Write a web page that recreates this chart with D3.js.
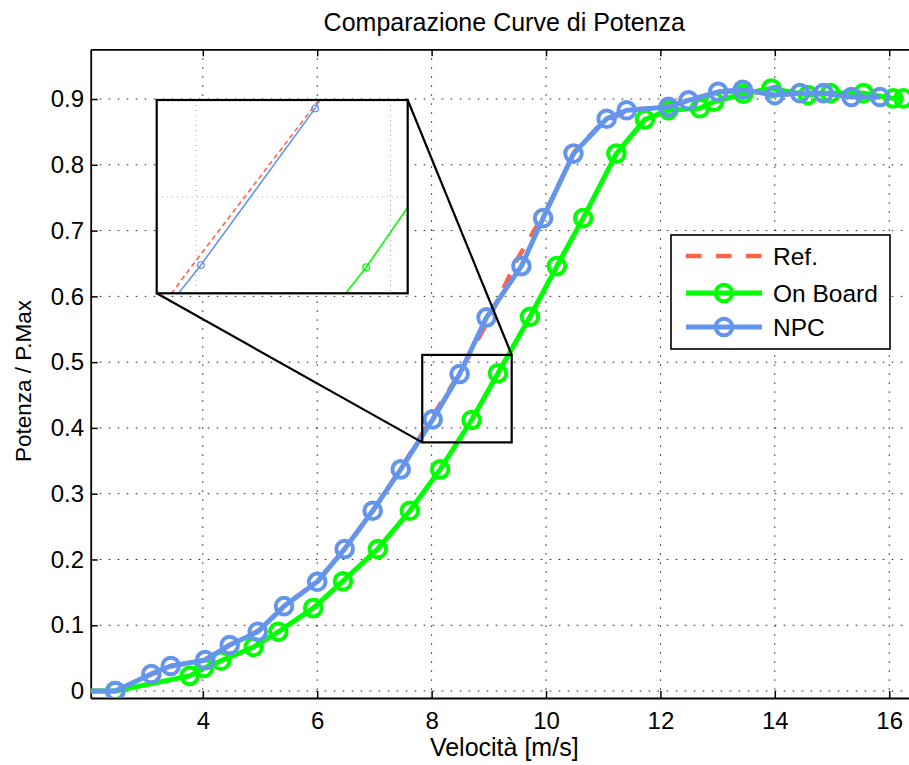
<!DOCTYPE html>
<html><head><meta charset="utf-8">
<script src="https://cdn.jsdelivr.net/npm/d3@7/dist/d3.min.js"></script>
<style>
body{margin:0;background:#fff}
svg{display:block}
text{font-family:"Liberation Sans",Arial,Helvetica,sans-serif;fill:#000}
</style>
</head><body>
<svg id="chart" width="909" height="765"></svg>
<script>
// ---------- data ----------
const xTicks = [4, 6, 8, 10, 12, 14, 16];
const yTicks = [0, 0.1, 0.2, 0.3, 0.4, 0.5, 0.6, 0.7, 0.8, 0.9];
const yTickLabels = ["0", "0.1", "0.2", "0.3", "0.4", "0.5", "0.6", "0.7", "0.8", "0.9"];
const seriesNames = ["Ref.", "On Board", "NPC"];

const refX = [2.0, 2.5, 3.0, 3.5, 4.0, 4.5, 5.0, 5.5, 6.0, 6.5, 7.0, 7.5, 8.0, 8.5, 9.0, 9.5, 10.0, 10.5, 11.0, 11.5, 12.0, 12.5, 13.0, 13.5, 14.0, 14.5, 15.0, 15.5, 16.0];
const refY = [0, 0, 0.022, 0.039, 0.046, 0.071, 0.093, 0.135, 0.166, 0.218, 0.277, 0.343, 0.415, 0.485, 0.565, 0.657, 0.730, 0.820, 0.866, 0.884, 0.887, 0.898, 0.910, 0.913, 0.906, 0.909, 0.908, 0.903, 0.903];

const boardX = [2.0, 2.47, 3.77, 4.02, 4.32, 4.89, 5.32, 5.93, 6.45, 7.06, 7.62, 8.15, 8.70, 9.16, 9.72, 10.19, 10.65, 11.23, 11.73, 12.14, 12.69, 12.94, 13.45, 13.94, 14.58, 14.97, 15.55, 16.07, 16.25];
const boardY = [0, 0, 0.023, 0.035, 0.046, 0.067, 0.090, 0.126, 0.167, 0.216, 0.274, 0.337, 0.412, 0.483, 0.569, 0.646, 0.719, 0.817, 0.869, 0.883, 0.886, 0.896, 0.908, 0.916, 0.906, 0.909, 0.909, 0.901, 0.901];

const npcX = [2.0, 2.47, 3.10, 3.44, 4.04, 4.47, 4.96, 5.42, 6.00, 6.48, 6.97, 7.46, 8.02, 8.49, 8.96, 9.57, 9.95, 10.48, 11.06, 11.41, 12.14, 12.49, 13.01, 13.44, 14.00, 14.44, 14.85, 15.34, 15.84];
const npcY = [0, 0, 0.026, 0.038, 0.047, 0.070, 0.090, 0.129, 0.166, 0.216, 0.274, 0.337, 0.413, 0.482, 0.568, 0.646, 0.719, 0.817, 0.870, 0.883, 0.888, 0.898, 0.911, 0.914, 0.906, 0.909, 0.909, 0.903, 0.903];

// zoom window (main axes data coords) and inset view limits
const zoomBoxX = [7.836, 9.40];
const zoomBoxY = [0.378, 0.511];
const insetX = [7.838, 8.871];
const insetY = [0.4005, 0.4857];
const insetGridX = [8.0, 8.8];
const insetGridY = [0.443];

// ---------- setup ----------
const svg = d3.select("#chart");
const L = 90.7, T = 49.3, B = 698;
const x = d3.scaleLinear().domain([2.04, 16.5]).range([L, L + 14.46 * 57.2]);
const y = d3.scaleLinear().domain([-0.0106, 0.9756]).range([B, T]);
const R = x.range()[1];

const colRef = "#ff6347", colBoard = "#00ff00", colNpc = "#6495ed";

// grid
const grid = svg.append("g");
grid.selectAll(".gx").data(xTicks).enter().append("line")
  .attr("x1", d => x(d)).attr("x2", d => x(d)).attr("y1", T).attr("y2", B)
  .attr("stroke", "#222").attr("stroke-width", 1).attr("stroke-dasharray", "1.6,7.4");
grid.selectAll(".gy").data(yTicks).enter().append("line")
  .attr("y1", d => y(d)).attr("y2", d => y(d)).attr("x1", L).attr("x2", R)
  .attr("stroke", "#222").attr("stroke-width", 1).attr("stroke-dasharray", "1.6,7.4");

// axes
const fs = 24;
const ax = svg.append("g").attr("transform", `translate(0,${B})`)
  .call(d3.axisBottom(x).tickValues(xTicks).tickFormat(d3.format("d")).tickSizeInner(-7).tickSizeOuter(0).tickPadding(14));
const ay = svg.append("g").attr("transform", `translate(${L},0)`)
  .call(d3.axisLeft(y).tickValues(yTicks).tickFormat((d, i) => yTickLabels[i]).tickSizeInner(-7).tickSizeOuter(0).tickPadding(6.7));
const axt = svg.append("g").attr("transform", `translate(0,${T})`)
  .call(d3.axisTop(x).tickValues(xTicks).tickFormat("").tickSizeInner(-7).tickSizeOuter(0));
const ayr = svg.append("g").attr("transform", `translate(${R},0)`)
  .call(d3.axisRight(y).tickValues(yTicks).tickFormat("").tickSizeInner(-7).tickSizeOuter(0));
[ax, ay, axt, ayr].forEach(g => {
  g.select(".domain").attr("stroke", "#000").attr("stroke-width", 1.8);
  g.selectAll(".tick line").attr("stroke", "#000").attr("stroke-width", 1.5);
  g.selectAll(".tick text").attr("font-size", fs).attr("font-family", "Liberation Sans, Arial, sans-serif").attr("fill", "#000");
});

// data
svg.append("clipPath").attr("id", "plotclip").append("rect")
  .attr("x", L).attr("y", T).attr("width", R - L).attr("height", B - T);
const plot = svg.append("g").attr("clip-path", "url(#plotclip)");

function drawSeries(g, xs, ys, sx, sy, color, lw, dash, markerR, markerW, showMarkers, xmin) {
  const pts = xs.map((v, i) => [v, ys[i]]);
  const line = d3.line().x(d => sx(d[0])).y(d => sy(d[1]));
  g.append("path").datum(pts).attr("d", line).attr("fill", "none")
    .attr("stroke", color).attr("stroke-width", lw).attr("stroke-linejoin", "round")
    .attr("stroke-dasharray", dash);
  if (showMarkers) {
    g.selectAll(null).data(pts.filter(p => p[0] >= xmin)).enter().append("circle")
      .attr("cx", d => sx(d[0])).attr("cy", d => sy(d[1])).attr("r", markerR)
      .attr("fill", "none").attr("stroke", color).attr("stroke-width", markerW);
  }
}
drawSeries(plot, refX, refY, x, y, colRef, 4.5, "15,14", 0, 0, false, 2.04);
drawSeries(plot, boardX, boardY, x, y, colBoard, 5, null, 8.3, 4, true, 2.04);
drawSeries(plot, npcX, npcY, x, y, colNpc, 5, null, 8.3, 4, true, 2.04);

// zoom rectangle and connectors
const zx0 = x(zoomBoxX[0]), zx1 = x(zoomBoxX[1]), zy0 = y(zoomBoxY[0]), zy1 = y(zoomBoxY[1]);
const xi = d3.scaleLinear().domain(insetX).range([156.7, 407.7]);
const yi = d3.scaleLinear().domain(insetY).range([293.3, 100]);
svg.append("rect").attr("x", zx0).attr("y", zy1).attr("width", zx1 - zx0).attr("height", zy0 - zy1)
  .attr("fill", "none").attr("stroke", "#000").attr("stroke-width", 2.2);
svg.append("line").attr("x1", xi.range()[0]).attr("y1", yi.range()[0]).attr("x2", zx0).attr("y2", zy0)
  .attr("stroke", "#000").attr("stroke-width", 2.2);
svg.append("line").attr("x1", xi.range()[1]).attr("y1", yi.range()[1]).attr("x2", zx1).attr("y2", zy1)
  .attr("stroke", "#000").attr("stroke-width", 2.2);

// inset
const ig = svg.append("g");
ig.append("rect").attr("x", xi.range()[0]).attr("y", yi.range()[1])
  .attr("width", xi.range()[1] - xi.range()[0]).attr("height", yi.range()[0] - yi.range()[1]).attr("fill", "#fff");
svg.append("clipPath").attr("id", "insetclip").append("rect")
  .attr("x", xi.range()[0]).attr("y", yi.range()[1])
  .attr("width", xi.range()[1] - xi.range()[0]).attr("height", yi.range()[0] - yi.range()[1]);
const igc = ig.append("g").attr("clip-path", "url(#insetclip)");
igc.selectAll(".igx").data(insetGridX).enter().append("line")
  .attr("x1", d => xi(d)).attr("x2", d => xi(d)).attr("y1", yi.range()[1]).attr("y2", yi.range()[0])
  .attr("stroke", "#888").attr("stroke-width", 0.8).attr("stroke-dasharray", "1,4");
igc.selectAll(".igy").data(insetGridY).enter().append("line")
  .attr("y1", d => yi(d)).attr("y2", d => yi(d)).attr("x1", xi.range()[0]).attr("x2", xi.range()[1])
  .attr("stroke", "#888").attr("stroke-width", 0.8).attr("stroke-dasharray", "1,4");
drawSeries(igc, refX, refY, xi, yi, colRef, 1.6, "5,3.5", 0, 0, false, 0);
drawSeries(igc, boardX, boardY, xi, yi, colBoard, 1.6, null, 3.3, 1.3, true, 0);
drawSeries(igc, npcX, npcY, xi, yi, colNpc, 1.6, null, 3.3, 1.3, true, 0);
ig.append("rect").attr("x", xi.range()[0]).attr("y", yi.range()[1])
  .attr("width", xi.range()[1] - xi.range()[0]).attr("height", yi.range()[0] - yi.range()[1])
  .attr("fill", "none").attr("stroke", "#000").attr("stroke-width", 2.2);

// legend
const lg = svg.append("g");
lg.append("rect").attr("x", 671).attr("y", 235).attr("width", 219).attr("height", 114)
  .attr("fill", "#fff").attr("stroke", "#000").attr("stroke-width", 1.6);
const legColors = [colRef, colBoard, colNpc];
const legY = [256, 293, 327];
seriesNames.forEach((name, i) => {
  lg.append("line").attr("x1", 686).attr("x2", 762).attr("y1", legY[i]).attr("y2", legY[i])
    .attr("stroke", legColors[i]).attr("stroke-width", i === 0 ? 4.5 : 5)
    .attr("stroke-dasharray", i === 0 ? "15.5,14.5" : null);
  if (i > 0) lg.append("circle").attr("cx", 724).attr("cy", legY[i]).attr("r", 8.3)
    .attr("fill", "none").attr("stroke", legColors[i]).attr("stroke-width", 4);
  lg.append("text").attr("x", 773).attr("y", legY[i] + 8.7).attr("font-size", 24.5).text(name);
});

// titles
svg.append("text").attr("x", (L + R) / 2).attr("y", 31).attr("text-anchor", "middle")
  .attr("font-size", 25).text("Comparazione Curve di Potenza");
svg.append("text").attr("x", (L + R) / 2).attr("y", 756).attr("text-anchor", "middle")
  .attr("font-size", 25).text("Velocità [m/s]");
svg.append("text").attr("transform", `translate(30.5,381) rotate(-90)`).attr("text-anchor", "middle")
  .attr("font-size", 22.5).text("Potenza / P.Max");
</script>
</body></html>
